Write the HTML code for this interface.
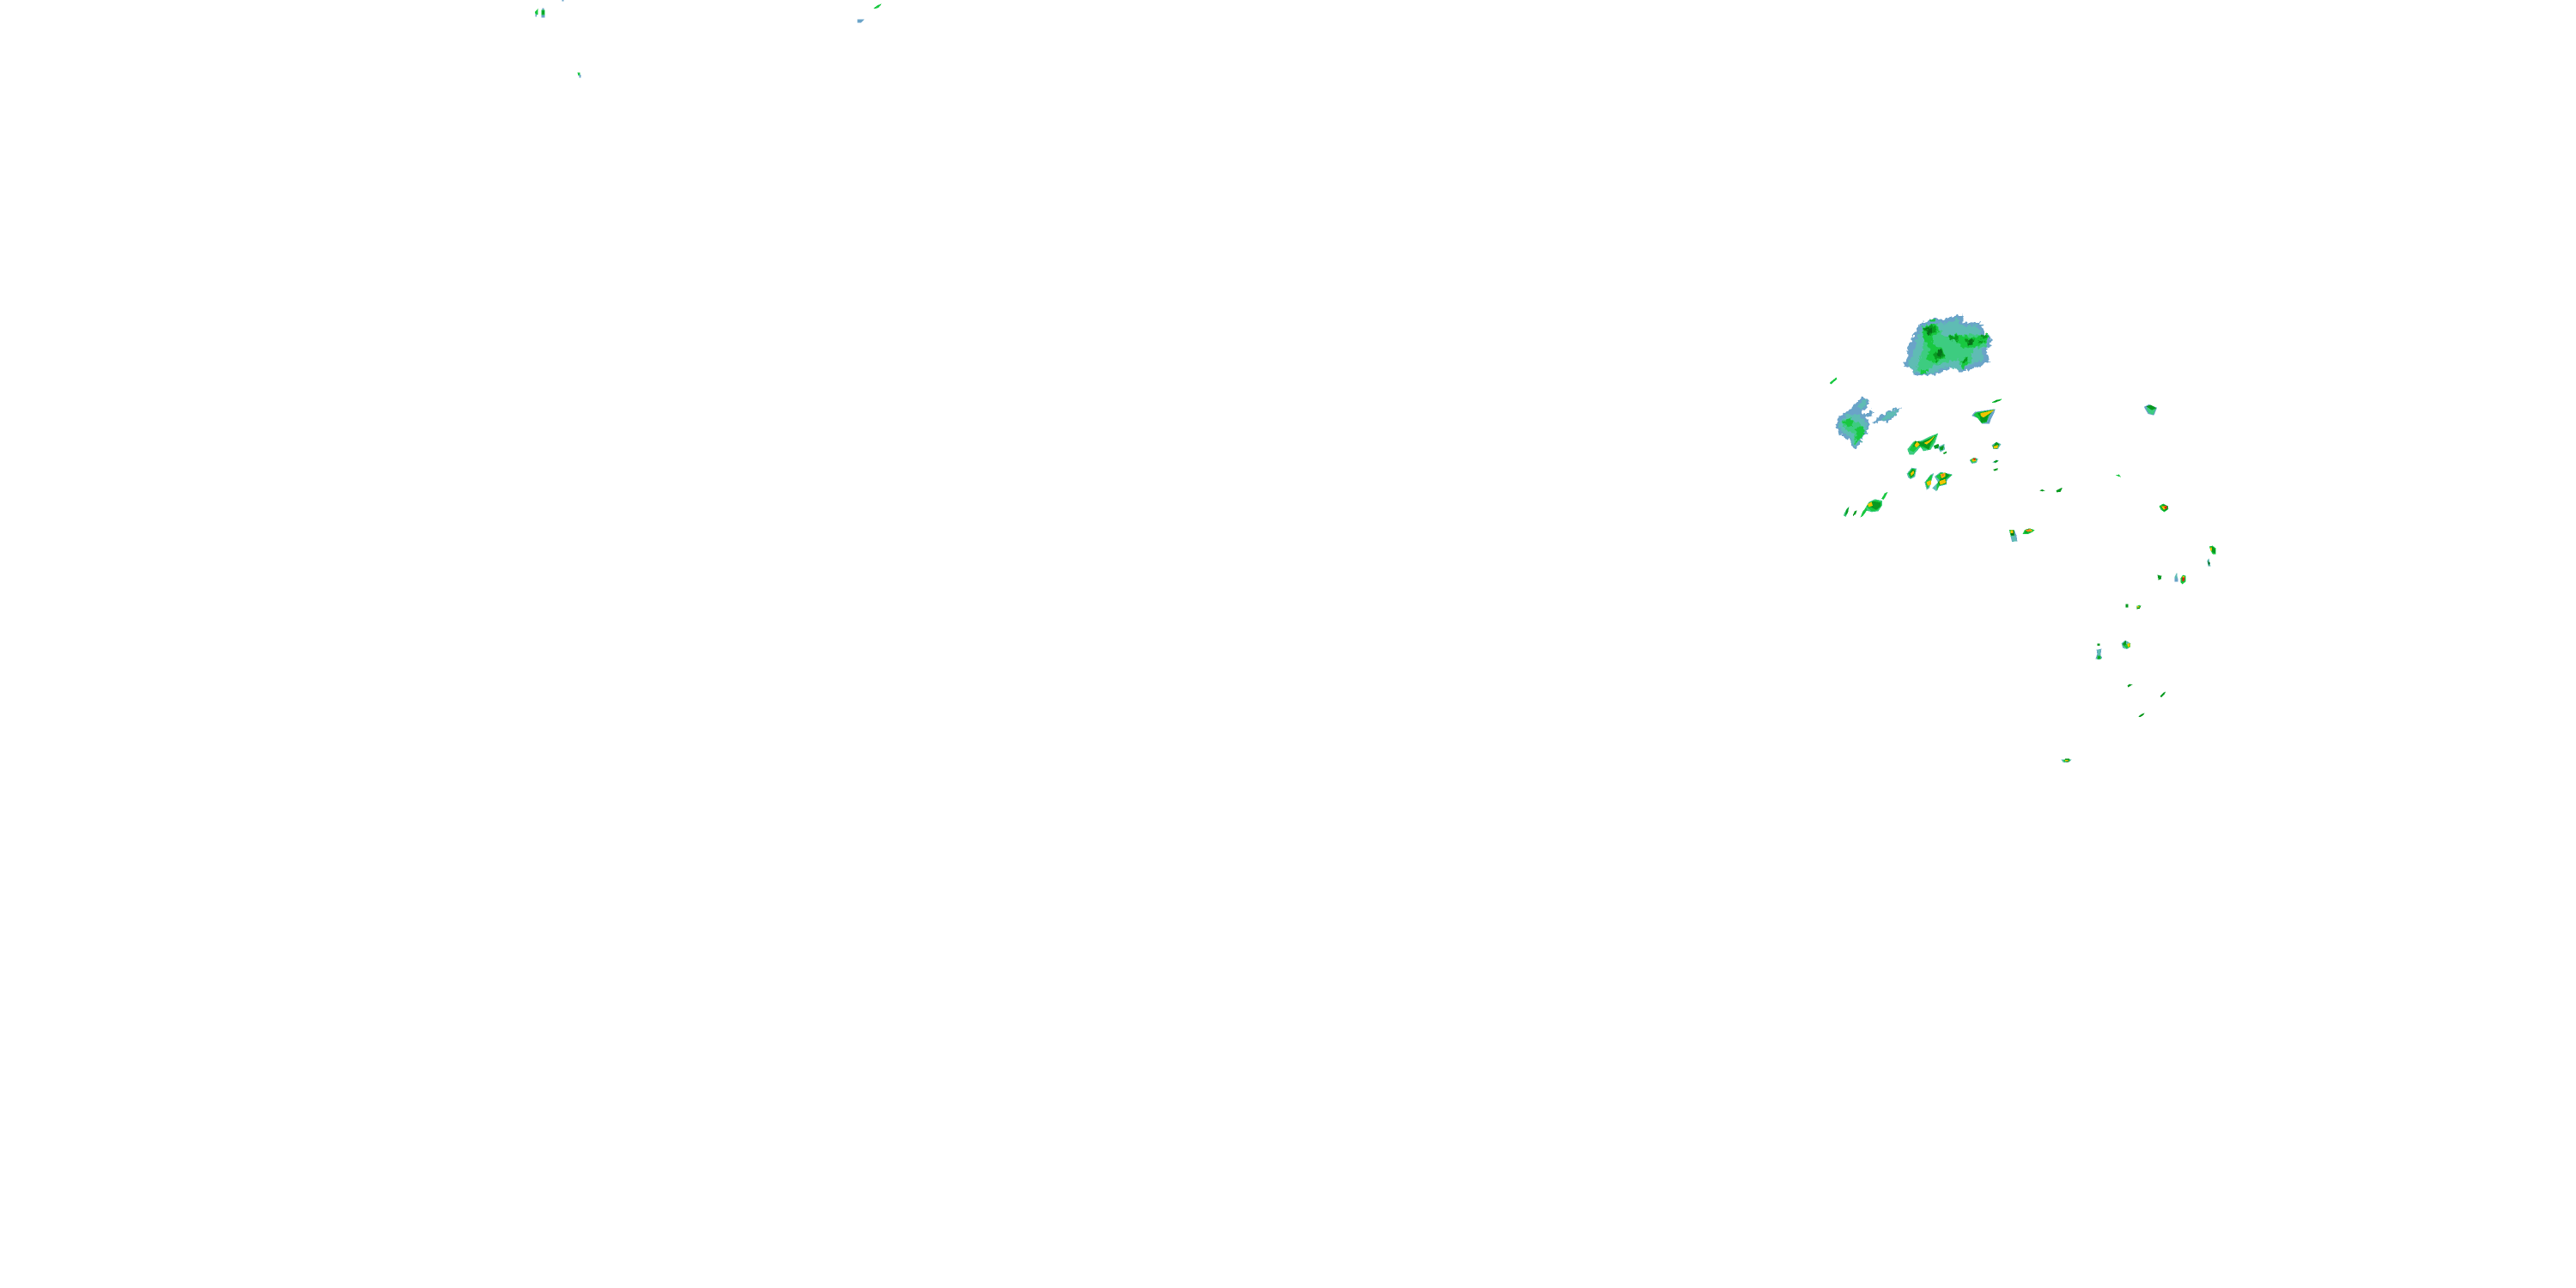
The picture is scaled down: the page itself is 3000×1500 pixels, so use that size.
<!DOCTYPE html>
<html><head><meta charset="utf-8"><style>
html,body{margin:0;padding:0;background:#fff}
svg{display:block}
</style></head><body>
<svg width="3000" height="1500" viewBox="0 0 3000 1500" xmlns="http://www.w3.org/2000/svg" shape-rendering="crispEdges">
<rect width="3000" height="1500" fill="#ffffff"/>
<defs><style>
.b{fill:#6aa3c8;stroke:#6aa3c8}.t{fill:#5fbcb4;stroke:#5fbcb4}.l{fill:#3dcc80;stroke:#3dcc80}.g{fill:#18c840;stroke:#18c840}.d{fill:#089a20;stroke:#089a20}.k{fill:#06701a;stroke:#06701a}.y{fill:#f0c400;stroke:#f0c400}.o{fill:#f08020;stroke:#f08020}.r{fill:#e02010;stroke:#e02010}
polygon,rect{stroke-width:2}
</style>
<filter id="rag" x="-15%" y="-15%" width="130%" height="130%" color-interpolation-filters="sRGB">
<feTurbulence type="fractalNoise" baseFrequency="0.09" numOctaves="2" seed="4" result="n"/>
<feDisplacementMap in="SourceGraphic" in2="n" scale="22" xChannelSelector="R" yChannelSelector="G"/>
</filter>
</defs>

<!-- big blob -->
<g transform="translate(2210,365) scale(.33333)" filter="url(#rag)">
<polygon class="b" points="22,185 40,145 30,130 45,105 65,60 85,35 120,20 160,22 215,5 230,12 225,35 270,32 295,38 305,75 325,80 325,110 310,120 310,140 318,168 295,180 260,192 225,205 200,190 170,195 125,215 60,217 45,190"/>
<polygon class="t" points="35,180 55,135 75,70 100,40 160,35 210,20 220,45 280,45 295,85 315,100 295,125 300,160 255,180 215,195 170,185 120,207 65,208"/>
<polygon class="l" points="75,170 95,100 85,45 135,35 160,85 200,75 315,75 310,115 265,120 255,170 225,195 215,160 160,170 110,190 80,210 65,195"/>
<polygon class="g" points="85,50 130,35 145,65 120,80 125,110 160,125 165,155 130,170 100,160 115,125 95,95"/>
<polygon class="g" points="175,80 215,75 260,85 315,75 310,100 275,115 225,120 205,95"/>
<polygon class="g" points="225,160 245,150 245,175 225,195"/>
<polygon class="g" points="80,200 105,195 100,210 80,210"/>
<polygon class="d" points="90,50 130,42 135,65 110,75"/>
<polygon class="d" points="125,140 155,128 162,150 135,165"/>
<polygon class="d" points="180,80 215,80 210,95 190,92"/>
<polygon class="d" points="238,90 265,88 262,110 245,110"/>
<polygon class="d" points="290,78 310,72 305,88 290,88"/>
<polygon class="d" points="280,100 300,95 295,105"/>
<polygon class="d" points="225,160 245,155 240,172 228,172"/>
<polygon class="k" points="98,52 118,52 118,70 105,68"/>
<polygon class="k" points="135,132 155,130 155,148 138,150"/>
<polygon class="k" points="245,95 262,92 260,110 248,108"/>
</g>
<g transform="translate(2210,365) scale(.33333)">
<polygon class="g" points="112,24 132,20 130,27 116,28"/>
</g>
<g transform="translate(2100,340) scale(.33333)">
<polygon class="g" points="93,318 115,300 117,304 98,321"/>
</g>

<!-- left blob -->
<g transform="translate(2100,440) scale(.33333)" filter="url(#rag)">
<polygon class="b" points="115,160 125,135 165,110 185,90 208,68 230,75 225,95 205,120 215,130 225,155 230,175 210,205 195,235 175,248 165,215 125,195"/>
<polygon class="t" points="125,160 150,132 190,128 218,150 222,175 195,225 178,240 172,215 138,188"/>
<polygon class="t" points="190,100 215,75 225,80 205,110"/>
<polygon class="l" points="135,155 160,140 178,150 200,160 215,185 200,220 180,232 180,195 150,178"/>
<polygon class="g" points="138,155 160,143 172,150 168,165 155,172"/>
<polygon class="g" points="182,178 205,172 213,190 198,215 182,228 190,195"/>
<polygon class="b" points="218,132 235,112 245,118 240,132 228,138"/>
<polygon class="b" points="240,160 270,135 300,115 340,105 325,130 295,152 265,150"/>
<polygon class="t" points="270,147 300,120 332,110 320,130 292,148"/>
</g>

<!-- crop 2 cells -->
<g transform="translate(2100,440) scale(.33333)">
<!-- cell A -->
<polygon class="l" points="365,250 385,225 415,220 445,205 470,195 460,225 445,250 420,255 410,240 385,268 372,268"/>
<polygon class="g" points="372,252 390,222 415,225 445,210 465,200 452,228 440,248 420,245 405,238 385,258"/>
<polygon class="d" points="385,240 392,222 415,225 445,212 462,202 445,228 438,250 422,240 405,235"/>
<polygon class="y" points="390,236 398,224 406,232 396,242"/>
<polygon class="y" points="424,228 440,220 448,214 458,204 448,218 432,232"/>
<polygon class="t" points="456,238 472,232 476,245 460,248"/>
<polygon class="d" points="458,238 472,232 474,244 462,246"/>
<polygon class="t" points="472,242 492,232 494,250 480,258"/>
<polygon class="d" points="478,244 490,238 488,250 480,252"/>
<polygon class="d" points="490,263 500,258 500,262 492,266"/>

<!-- cell B -->
<polygon class="b" points="590,132 600,120 670,110 665,125 655,145 650,160 625,160 610,140"/>
<polygon class="g" points="597,130 605,122 665,112 650,130 640,155 625,158 610,140"/>
<polygon class="d" points="610,125 640,118 665,113 645,132 640,152 622,155 618,135"/>
<polygon class="y" points="620,124 640,120 666,113 648,126 630,138 622,133"/>
<polygon class="g" points="660,86 675,78 692,75 690,78 668,86"/>
<polygon class="d" points="668,82 680,78 684,80 672,84"/>

<!-- right small cell -->
<polygon class="b" points="1192,102 1208,94 1235,105 1225,130 1205,125"/>
<polygon class="l" points="1200,108 1210,96 1232,106 1222,128 1208,122"/>
<polygon class="d" points="1200,100 1215,96 1232,106 1218,112"/>

<!-- small cells -->
<polygon class="t" points="660,235 675,225 690,232 680,248 665,248"/>
<polygon class="d" points="664,238 675,226 684,232 678,246 666,246"/>
<polygon class="y" points="666,240 680,236 678,245 668,246"/>
<polygon class="t" points="582,288 595,280 610,283 605,296 590,299"/>
<polygon class="g" points="585,287 597,280 606,285 600,295 590,295"/>
<polygon class="y" points="590,285 600,281 603,290 592,292"/>
<polygon class="r" points="593,285 600,281 600,287"/>
<polygon class="t" points="663,295 675,288 682,290 670,297"/>
<polygon class="d" points="668,293 676,289 680,291 672,296"/>
<polygon class="d" points="667,322 678,318 678,321 670,324"/>

<!-- cell C -->
<polygon class="t" points="363,335 380,315 395,318 390,345 375,353 368,348"/>
<polygon class="g" points="367,335 380,318 392,320 387,342 375,350"/>
<polygon class="d" points="372,335 382,320 390,325 385,340 376,347"/>
<polygon class="y" points="376,335 385,325 386,333 378,342"/>

<!-- cell D -->
<polygon class="t" points="425,365 445,340 455,335 445,365 440,385 432,390"/>
<polygon class="g" points="428,365 445,342 450,340 445,368 434,385"/>
<polygon class="y" points="432,365 445,358 446,372 436,376"/>
<polygon class="t" points="460,345 480,330 520,338 500,360 500,372 475,378 465,395 452,385 472,365"/>
<polygon class="g" points="465,345 482,332 518,340 498,355 498,370 475,376 468,392 468,372 478,358"/>
<polygon class="d" points="478,340 495,332 510,340 497,352 500,368 476,374 472,365 482,352"/>
<polygon class="y" points="480,338 495,333 495,345 484,350"/>
<polygon class="y" points="476,362 495,355 498,366 480,373"/>
<polygon class="o" points="484,338 492,336 491,343 485,344"/>

<!-- cell E -->
<polygon class="l" points="215,460 230,435 250,425 275,430 275,445 262,465 240,468 218,462"/>
<polygon class="g" points="222,450 235,435 255,428 272,435 272,448 258,462 240,465"/>
<polygon class="d" points="225,445 245,432 270,437 268,450 255,460 238,452"/>
<polygon class="y" points="226,442 238,435 242,446 230,450"/>
<polygon class="g" points="275,422 285,405 294,400 285,418 280,425"/>
<polygon class="g" points="202,485 210,465 220,455 222,462 208,482"/>
<polygon class="l" points="142,480 150,462 159,452 155,470 148,485"/>
<polygon class="d" points="148,478 152,462 158,455 155,472"/>
<polygon class="d" points="174,482 180,468 186,465 183,475"/>

<!-- tiny -->
<polygon class="g" points="1095,340 1103,339 1108,345 1100,343"/>
<polygon class="d" points="828,394 835,391 842,394 835,396"/>
<polygon class="d" points="885,394 895,389 904,385 898,398 887,399"/>
</g>

<!-- crop 3 -->
<g transform="translate(2320,540) scale(.33333)">
<polygon class="d" points="6,21 18,17 18,20 8,24"/>
<polygon class="g" points="585,148 598,141 612,148 615,158 602,168 590,160"/>
<polygon class="d" points="590,150 600,143 614,150 612,160 600,165"/>
<polygon class="y" points="593,150 606,148 610,155 600,160"/>
<polygon class="r" points="602,150 610,148 610,156 604,157"/>
<polygon class="b" points="61,232 76,232 84,250 87,270 70,272 66,255"/>
<polygon class="t" points="68,252 80,252 85,270 72,272"/>
<polygon class="g" points="61,232 76,232 78,250 66,252"/>
<polygon class="k" points="65,233 75,233 75,250 67,250"/>
<polygon class="y" points="65,234 73,234 73,242 66,242"/>
<polygon class="g" points="108,245 115,232 130,227 147,232 140,238 125,245"/>
<polygon class="d" points="115,240 120,230 135,229 140,235 125,240"/>
<polygon class="y" points="118,233 133,229 140,235 125,237"/>
<polygon class="o" points="120,232 132,229 135,234 122,236"/>
<polygon class="g" points="760,290 770,288 780,295 780,315 772,316 765,305"/>
<polygon class="d" points="763,292 770,290 780,300 778,312 770,308"/>
<polygon class="y" points="763,294 767,294 767,303 764,303"/>
<polygon class="t" points="752,340 757,333 762,357 756,357"/>
<polygon class="k" points="755,343 761,347 757,353"/>
</g>

<!-- crop 4 -->
<g transform="translate(2400,620) scale(.33333)">
<polygon class="d" points="339,150 351,153 350,162 342,165"/>
<polygon class="t" points="399,155 405,144 408,170 399,171"/>
<rect class="b" x="399" y="162" width="9" height="9"/>
<polygon class="g" points="420,160 427,150 435,152 435,172 425,180 420,175"/>
<polygon class="d" points="423,158 430,152 433,165 426,172"/>
<polygon class="y" points="425,155 431,154 431,165 426,166"/>
<polygon class="r" points="426,158 432,158 431,168 426,170"/>
<rect class="d" x="228" y="252" width="6" height="9"/>
<polygon class="g" points="267,258 275,255 279,258 275,266 267,267"/>
<polygon class="d" points="267,261 279,258 275,266 267,267"/>
<rect class="y" x="268" y="259" width="6" height="2"/>
</g>

<!-- crop 5 -->
<g transform="translate(2420,720) scale(.33333)">
<rect class="d" x="69" y="90" width="6" height="5"/>
<polygon class="b" points="66,111 81,108 78,130 84,138 75,144 63,141 68,125"/>
<polygon class="t" points="69,110 78,110 76,128 70,128"/>
<polygon class="g" points="68,131 78,131 80,141 68,143"/>
<rect class="d" x="71" y="135" width="5" height="5"/>
<polygon class="t" points="153,88 165,78 183,88 180,100 172,107 158,104"/>
<polygon class="d" points="157,90 167,80 168,92 160,96"/>
<polygon class="g" points="160,96 172,92 182,88 182,100 170,104"/>
<polygon class="y" points="173,90 181,88 180,98 175,100"/>
<polygon class="d" points="174,236 180,231 188,232 182,236 176,240"/>
<polygon class="d" points="288,273 298,262 305,258 300,267 291,276"/>
<polygon class="d" points="213,343 222,336 231,333 225,340 216,345"/>
</g>

<!-- bottom cell -->
<g transform="translate(2380,870) scale(.33333)">
<polygon class="t" points="63,45 75,44 95,45 90,50 80,53 68,52"/>
<polygon class="g" points="70,46 78,43 90,42 92,46 84,50 72,51"/>
<rect class="d" x="76" y="42" width="13" height="3"/>
<rect class="y" x="76" y="46" width="8" height="3"/>
<rect class="k" x="80" y="50" width="7" height="2"/>
</g>

<!-- crop 6 -->
<g transform="translate(600,0) scale(.33333)">
<polygon class="g" points="70,42 78,33 78,50 72,53"/>
<rect class="b" x="71" y="50" width="3" height="7"/>
<rect class="g" x="93" y="36" width="9" height="17"/>
<rect class="d" x="95" y="39" width="4" height="10"/>
<rect class="b" x="93" y="53" width="9" height="7"/>
<rect class="b" x="96" y="30" width="3" height="3"/>
<rect class="b" x="165" y="0" width="3" height="3"/>
<polygon class="g" points="219,255 225,255 226,263 221,263"/>
<rect class="b" x="224" y="262" width="4" height="8"/>
<polygon class="g" points="1254,29 1265,20 1278,15 1270,25 1260,29"/>
<polygon class="b" points="1197,69 1218,69 1212,75 1208,78 1197,78"/>
</g>
</svg>
</body></html>
